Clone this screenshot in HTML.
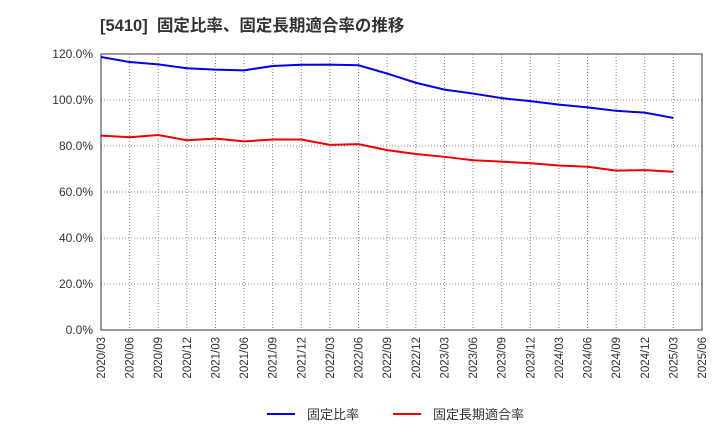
<!DOCTYPE html>
<html><head><meta charset="utf-8"><style>
body{margin:0;background:#fff;}
svg{display:block;font-family:"Liberation Sans","Noto Sans CJK JP",sans-serif;}
</style></head><body>
<svg id="chart" width="720" height="440"></svg>
<script>
const categories=["2020/03","2020/06","2020/09","2020/12","2021/03","2021/06","2021/09","2021/12","2022/03","2022/06","2022/09","2022/12","2023/03","2023/06","2023/09","2023/12","2024/03","2024/06","2024/09","2024/12","2025/03","2025/06"];
const fixedRatio=[118.7,116.5,115.5,113.8,113.2,112.9,114.8,115.3,115.4,115.1,111.5,107.5,104.5,102.8,100.8,99.5,98,96.8,95.3,94.5,92.2];
const fixedLongTermRatio=[84.5,83.8,84.8,82.5,83.2,82.0,82.8,82.8,80.5,80.8,78.2,76.5,75.3,73.8,73.2,72.5,71.5,71.0,69.3,69.5,68.8];
const yTicks=[0,20,40,60,80,100,120];
const yTickLabels=["0.0%","20.0%","40.0%","60.0%","80.0%","100.0%","120.0%"];

const NS="http://www.w3.org/2000/svg";
const svg=document.getElementById('chart');
const L=101,R=702,T=54,B=330;
const xs=i=>L+i*(R-L)/(categories.length-1);
const ys=v=>B-v*(B-T)/120;
function mk(tag,attrs,parent){const e=document.createElementNS(NS,tag);for(const k in attrs)e.setAttribute(k,attrs[k]);(parent||svg).appendChild(e);return e;}

const title=mk('text',{x:100,y:31,'font-size':16.5,'font-weight':'bold',fill:'#333',style:'white-space:pre'});


title.textContent='[5410]  固定比率、固定長期適合率の推移';

const grid=mk('g',{});


categories.forEach((c,i)=>{
  const gl=mk('line',{x1:xs(i),x2:xs(i),y1:T,y2:B,stroke:'#888','stroke-dasharray':'1,2','stroke-width':1},grid);
  
  
  const t=mk('text',{transform:`translate(${xs(i)+4},${B+7}) rotate(-90)`,'text-anchor':'end','font-size':11.5,fill:'#333'});
  
  
  t.textContent=c;
});
yTicks.forEach((v,i)=>{
  const gl=mk('line',{x1:L,x2:R,y1:ys(v),y2:ys(v),stroke:'#888','stroke-dasharray':'1,2','stroke-width':1},grid);
  
  
  const t=mk('text',{x:L-8,y:ys(v)+4,'text-anchor':'end','font-size':12,fill:'#333'});
  
  
  t.textContent=yTickLabels[i];
});
const frame=mk('rect',{x:L,y:T,width:R-L,height:B-T,fill:'none',stroke:'#333','stroke-width':1});



function series(vals,color,name){
  const p=mk('polyline',{points:vals.map((v,i)=>xs(i)+','+ys(v)).join(' '),fill:'none',stroke:color,'stroke-width':2});
  
  
}
series(fixedRatio,'#0000ee','fixed-ratio-line');
series(fixedLongTermRatio,'#ee0000','fixed-long-term-ratio-line');

function legend(x,color,label,name){
  const g=mk('g',{});
  
  
  mk('line',{x1:x,x2:x+28,y1:414,y2:414,stroke:color,'stroke-width':2},g);
  const t=mk('text',{x:x+40,y:419,'font-size':13,fill:'#333'},g);
  t.textContent=label;
}
legend(267,'#0000ee','固定比率','legend-fixed-ratio');
legend(393,'#ee0000','固定長期適合率','legend-fixed-long-term-ratio');
</script>
</body></html>
